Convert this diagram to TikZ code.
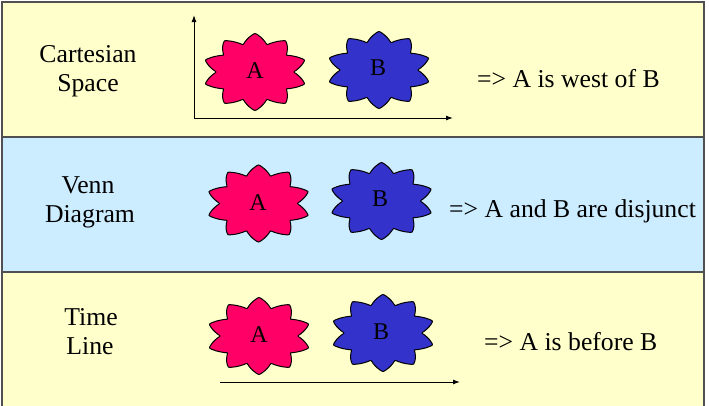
\documentclass[tikz,border=0pt]{standalone}
\usepackage{fontspec}
\setmainfont{Liberation Serif}
\usetikzlibrary{arrows.meta}
\definecolor{bandyellow}{HTML}{FFFFCC}
\definecolor{bandblue}{HTML}{CCECFF}
\definecolor{blobpink}{HTML}{FF0066}
\definecolor{blobblue}{HTML}{3333CC}
\definecolor{bandline}{HTML}{505050}
\newcommand\myblob[3]{%
  \filldraw[fill=#3, draw=black, line width=1pt]
    plot[smooth cycle, variable=\t, samples=100, domain=0:356.4]
    ({#1 + 52*(0.75+0.14*abs(cos(5*(\t-90)))+0.11*(1-abs(sin(5*(\t-90)))))*cos(\t)},
     {#2 + 38.5*(0.75+0.14*abs(cos(5*(\t-90)))+0.11*(1-abs(sin(5*(\t-90)))))*sin(\t)});%
}
\begin{document}
\begin{tikzpicture}[x=1pt, y=-1pt,
  band/.style={draw=bandline, line width=1.5pt},
  lbl/.style={font=\fontsize{25.7}{29}\selectfont, inner sep=0pt, anchor=base},
  rtxt/.style={font=\fontsize{25.7}{29}\selectfont, inner sep=0pt, anchor=base west},
  letter/.style={font=\fontsize{24}{28}\selectfont, inner sep=0pt},
  axis/.style={line width=1pt, -{Latex[length=7pt, width=5pt]}}]
\useasboundingbox (0,0) rectangle (709,405);
% bands
\fill[bandyellow] (2,2) rectangle (704,137);
\fill[bandblue] (2,137) rectangle (704,272);
\fill[bandyellow] (2,272) rectangle (704,407);
\draw[band] (2,410) -- (2,2) -- (704,2) -- (704,410);
\draw[band] (2,137) -- (704,137);
\draw[band] (2,272) -- (704,272);
% left labels
\node[lbl] (cart1) at (88,62) {Cartesian};
\node[lbl] (cart2) at (88,91) {Space};
\node[lbl] (venn1) at (88,193) {Venn};
\node[lbl] (venn2) at (90,222) {Diagram};
\node[lbl] (time1) at (91,325) {Time};
\node[lbl] (time2) at (90,354) {Line};
% axes
\coordinate (o) at (194,118);
\coordinate (ytip) at (194,15);
\coordinate (xtip) at (453,118);
\draw[axis] (o) -- (ytip);
\draw[axis] (o) -- (xtip);
\coordinate (t0) at (220,382);
\coordinate (t1) at (460,382);
\draw[axis] (t0) -- (t1);
% blobs
\myblob{255}{72}{blobpink}
\myblob{379}{70}{blobblue}
\myblob{258.5}{203.5}{blobpink}
\myblob{381.5}{201}{blobblue}
\myblob{259}{336}{blobpink}
\myblob{383}{333}{blobblue}
\node[letter] (a1) at (255,71) {A};
\node[letter] (b1) at (378,68) {B};
\node[letter] (a2) at (258,203) {A};
\node[letter] (b2) at (380,199) {B};
\node[letter] (a3) at (259,335) {A};
\node[letter] (b3) at (381,332) {B};
% right texts
\node[rtxt] (r1) at (477,87) {=> A is west of B};
\node[rtxt] (r2) at (449,217) {=> A and B are disjunct};
\node[rtxt] (r3) at (484,350.5) {=> A is before B};
\end{tikzpicture}
\end{document}
